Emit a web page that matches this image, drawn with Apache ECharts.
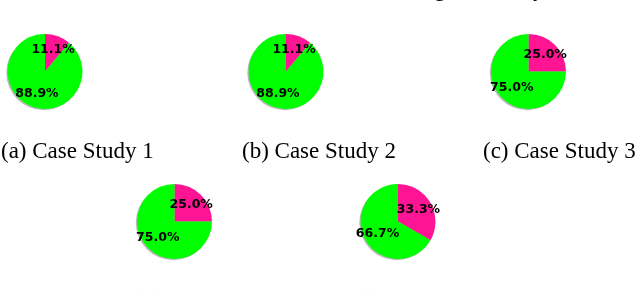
<!DOCTYPE html>
<html>
<head>
<meta charset="utf-8">
<script src="https://cdn.jsdelivr.net/npm/echarts@6/dist/echarts.min.js"></script>
<style>
html,body{margin:0;padding:0;background:#fff;}
#c{width:640px;height:294px;}
</style>
</head>
<body>
<div id="c"></div>
<script>
// Data
const caseNames = ['(a) Case Study 1', '(b) Case Study 2', '(c) Case Study 3', '(d) Case Study 4', '(e) Case Study 5'];
const pinkShare = [11.1, 11.1, 25.0, 25.0, 33.3];
const greenShare = [88.9, 88.9, 75.0, 75.0, 66.7];

// Layout
const centers = [[45, 71.5], [286, 71.5], [528.5, 71.5], [174.5, 221.5], [398, 221.5]];
const captionPos = [[1, 140], [242, 140], [483, 140], [134, 292], [356, 292]];
const R = 37.5;
const PINK = '#ff1493', GREEN = '#00ff00';
const CAPFONT = '23px "Liberation Serif"';

const chart = echarts.init(document.getElementById('c'), null, {renderer: 'canvas'});
const series = [];
caseNames.forEach((name, i) => {
  const c = centers[i];
  // shadow
  series.push({
    type: 'pie', center: [c[0] - 1.2, c[1] + 1.2], radius: [0, R], silent: true,
    animation: false, label: {show: false}, labelLine: {show: false},
    itemStyle: {color: 'rgba(0,0,0,0.28)'},
    data: [{value: 1}], z: 1
  });
  // pie
  series.push({
    type: 'pie', center: c, radius: [0, R], startAngle: 90, clockwise: true,
    animation: false, silent: true, label: {show: false}, labelLine: {show: false},
    itemStyle: {borderWidth: 0},
    data: [
      {name: 'pink', value: pinkShare[i], itemStyle: {color: PINK}},
      {name: 'green', value: greenShare[i], itemStyle: {color: GREEN}}
    ], z: 2
  });
  // labels
  series.push({
    type: 'pie', center: c, radius: [0.1 * R, R], startAngle: 90, clockwise: true,
    animation: false, silent: true,
    itemStyle: {color: 'rgba(0,0,0,0)'},
    label: {show: true, position: 'inside',
            formatter: p => p.percent.toFixed(1) + '%', color: '#000',
            fontFamily: 'DejaVu Sans', fontWeight: 'bold', fontSize: 12.5},
    labelLine: {show: false},
    data: [
      {name: 'pink', value: pinkShare[i]},
      {name: 'green', value: greenShare[i]}
    ], z: 3
  });
});

const graphics = caseNames.map((name, i) => ({
  type: 'text', x: captionPos[i][0], y: captionPos[i][1],
  style: {text: name, font: CAPFONT, fill: '#000', textVerticalAlign: 'top'}
}));
// descenders of the cut-off line above
graphics.push({type: 'text', x: 434, y: -22, style: {text: 'g', font: CAPFONT, fill: '#000', textVerticalAlign: 'top'}});
graphics.push({type: 'text', x: 533, y: -22, style: {text: 'y', font: CAPFONT, fill: '#000', textVerticalAlign: 'top'}});

chart.setOption({animation: false, backgroundColor: '#fff', series: series, graphic: graphics});
</script>
</body>
</html>
